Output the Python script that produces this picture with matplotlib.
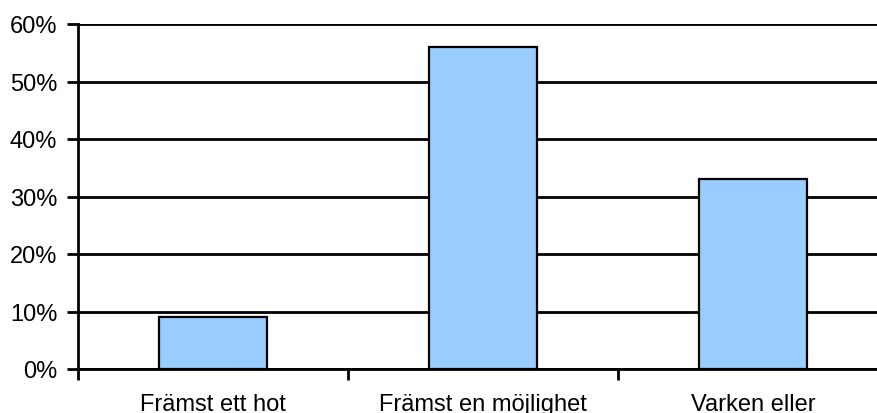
import numpy as np
import matplotlib.pyplot as plt
from matplotlib.ticker import MultipleLocator, FuncFormatter

plt.rcParams['font.family'] = ['Liberation Sans', 'DejaVu Sans']

categories = ['Främst ett hot', 'Främst en möjlighet', 'Varken eller']
shares = [9, 56, 33]

fig = plt.figure(figsize=(8.77, 4.14), dpi=100)
# axes runs past the right edge like the original
ax = fig.add_axes([78 / 877, 1 - 370 / 414, 810 / 877, 345 / 414])

x = np.arange(len(categories))
ax.bar(x, shares, width=0.4, color='#99CCFF', edgecolor='black', linewidth=1.6, zorder=3)

ax.set_xlim(-0.5, len(categories) - 0.5)
ax.set_ylim(0, 60)
ax.yaxis.set_major_locator(MultipleLocator(10))
ax.yaxis.set_major_formatter(FuncFormatter(lambda v, p: f'{v:.0f}%'))
ax.grid(axis='y', color='black', linewidth=2, zorder=1)

ax.set_xticks(x)
ax.set_xticklabels(categories, fontsize=17)
ax.set_xticks(np.arange(len(categories) + 1) - 0.5, minor=True)
ax.tick_params(axis='x', which='major', length=0, pad=17)
ax.tick_params(axis='x', which='minor', length=8, width=2, direction='out')
ax.tick_params(axis='y', length=8, width=2, labelsize=17, pad=7)

for side in ['top', 'right']:
    ax.spines[side].set_visible(False)
for side in ['left', 'bottom']:
    ax.spines[side].set_linewidth(2)

plt.savefig('out.png', dpi=100)
